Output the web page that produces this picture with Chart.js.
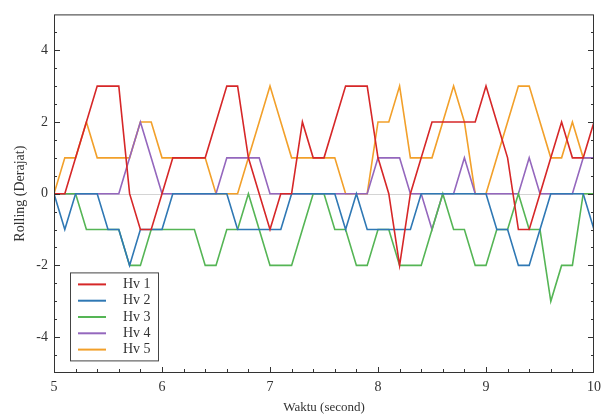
<!DOCTYPE html>
<html>
<head>
<meta charset="utf-8">
<script src="https://cdn.jsdelivr.net/npm/chart.js@4/dist/chart.umd.min.js"></script>
<style>
  html, body { margin: 0; padding: 0; background: #fff; }
  #wrap { width: 607px; height: 417px; }
</style>
</head>
<body>
<div id="wrap"><canvas id="chart"></canvas></div>
<script>
// time axis (second)
const times = [5.0, 5.1, 5.2, 5.3, 5.4, 5.5, 5.6, 5.7, 5.8, 5.9,
               6.0, 6.1, 6.2, 6.3, 6.4, 6.5, 6.6, 6.7, 6.8, 6.9,
               7.0, 7.1, 7.2, 7.3, 7.4, 7.5, 7.6, 7.7, 7.8, 7.9,
               8.0, 8.1, 8.2, 8.3, 8.4, 8.5, 8.6, 8.7, 8.8, 8.9,
               9.0, 9.1, 9.2, 9.3, 9.4, 9.5, 9.6, 9.7, 9.8, 9.9, 10.0];

// rolling (derajat) per hull
const hv1 = [0,0,1,2,3,3,3,0,-1,-1, 0,1,1,1,1,2,3,3,1,0, -1,0,0,2,1,1,2,3,3,3, 1,0,-2,0,1,2,2,2,2,2, 3,2,1,-1,-1,0,1,2,1,1, 2];
const hv2 = [0,-1,0,0,0,-1,-1,-2,-1,-1, -1,0,0,0,0,0,0,-1,-1,-1, -1,-1,0,0,0,0,0,-1,0,-1, -1,-1,-1,-1,0,0,0,0,0,0, 0,-1,-1,-2,-2,-1,0,0,0,0, -1];
const hv3 = [0,0,0,-1,-1,-1,-1,-2,-2,-1, -1,-1,-1,-1,-2,-2,-1,-1,0,-1, -2,-2,-2,-1,0,0,-1,-1,-2,-2, -1,-1,-2,-2,-2,-1,0,-1,-1,-2, -2,-1,-1,0,-1,-1,-3,-2,-2,0, 0];
const hv4 = [0,0,0,0,0,0,0,1,2,1, 0,0,0,0,0,0,1,1,1,1, 0,0,0,0,0,0,0,0,0,0, 1,1,1,0,0,-1,0,0,1,0, 0,0,0,0,1,0,0,0,0,1, 1];
const hv5 = [0,1,1,2,1,1,1,1,2,2, 1,1,1,1,1,0,0,0,1,2, 3,2,1,1,1,1,1,0,0,0, 2,2,3,1,1,1,2,3,2,0, 0,1,2,3,3,2,1,1,2,1, 1];

const seriesNames = ['Hv 1', 'Hv 2', 'Hv 3', 'Hv 4', 'Hv 5'];
const xTicks = [5, 6, 7, 8, 9, 10];
const yTicks = [-4, -2, 0, 2, 4];

const colors = ['#d62728', '#2f78b4', '#55b555', '#9467bd', '#f2a02a'];
const FONT = '"Liberation Serif", "Times New Roman", serif';
const AXIS = '#333';

const toPts = (arr) => arr.map((v, i) => ({ x: times[i], y: v }));

const frame = {
  id: 'frame',
  beforeDatasetsDraw(chart) {
    const { ctx, chartArea: a, scales: { y } } = chart;
    ctx.save();
    ctx.strokeStyle = '#d4d4d4';
    ctx.lineWidth = 1;
    const y0 = Math.round(y.getPixelForValue(0)) + 0.5;
    ctx.beginPath(); ctx.moveTo(a.left, y0); ctx.lineTo(a.right, y0); ctx.stroke();
    ctx.restore();
  },
  afterDraw(chart) {
    const { ctx, chartArea: a, scales: { x, y } } = chart;
    ctx.save();
    ctx.strokeStyle = AXIS;
    ctx.lineWidth = 1;
    ctx.strokeRect(a.left + 0.5, a.top + 0.5, a.right - a.left - 1, a.bottom - a.top - 1);

    // inward ticks, left/right
    ctx.beginPath();
    for (let i = -9; i <= 9; i++) {
      const py = Math.round(y.getPixelForValue(i / 2)) + 0.5;
      const len = i % 4 === 0 ? 6 : 3;
      ctx.moveTo(a.left, py); ctx.lineTo(a.left + len, py);
      ctx.moveTo(a.right, py); ctx.lineTo(a.right - len, py);
    }
    // bottom
    for (let i = 52; i <= 98; i += 2) {
      const px = Math.round(x.getPixelForValue(i / 10)) + 0.5;
      const len = i % 10 === 0 ? 6 : 4;
      ctx.moveTo(px, a.bottom); ctx.lineTo(px, a.bottom - len);
    }
    ctx.stroke();

    // legend box
    const lx = a.left + 16, ly = a.top + 258, lw = 88, lh = 88;
    ctx.fillStyle = '#fff';
    ctx.fillRect(lx, ly, lw, lh);
    ctx.strokeStyle = '#444';
    ctx.strokeRect(lx + 0.5, ly + 0.5, lw, lh);
    ctx.font = '14px ' + FONT;
    ctx.textBaseline = 'middle';
    chart.data.datasets.forEach((ds, i) => {
      const ry = ly + 12 + i * 16.3;
      ctx.strokeStyle = ds.borderColor;
      ctx.lineWidth = 2;
      ctx.beginPath(); ctx.moveTo(lx + 8, ry); ctx.lineTo(lx + 36, ry); ctx.stroke();
      ctx.fillStyle = '#333';
      ctx.fillText(ds.label, lx + 53, ry);
    });
    ctx.restore();
  }
};

new Chart(document.getElementById('chart'), {
  type: 'line',
  data: {
    datasets: [hv1, hv2, hv3, hv4, hv5].map((arr, i) => ({
      label: seriesNames[i],
      data: toPts(arr),
      borderColor: colors[i],
      backgroundColor: colors[i],
      borderWidth: 1.6,
      pointRadius: 0,
      tension: 0,
      fill: false
    }))
  },
  options: {
    responsive: true,
    maintainAspectRatio: false,
    animation: false,
    layout: { padding: { left: 0, right: 13, top: 11, bottom: 0 } },
    plugins: { legend: { display: false }, tooltip: { enabled: false } },
    scales: {
      x: {
        type: 'linear', min: 5, max: 10,
        afterFit: (s) => { s.height = 44; },
        afterBuildTicks: (s) => { s.ticks = xTicks.map(v => ({ value: v })); },
        grid: { display: false, drawTicks: false },
        border: { display: false },
        ticks: { padding: 6, color: '#333', font: { family: FONT, size: 14 }, maxRotation: 0 },
        title: { display: true, text: 'Waktu (second)', color: '#333', font: { family: FONT, size: 13 }, padding: { top: 0, bottom: 2 } }
      },
      y: {
        min: -5, max: 5,
        afterFit: (s) => { s.width = 54; },
        afterBuildTicks: (s) => { s.ticks = yTicks.map(v => ({ value: v })); },
        grid: { display: false, drawTicks: false },
        border: { display: false },
        ticks: { padding: 6, color: '#333', font: { family: FONT, size: 14 } },
        title: { display: true, text: 'Rolling (Derajat)', color: '#333', font: { family: FONT, size: 14 }, padding: { top: 12, bottom: 0 } }
      }
    }
  },
  plugins: [frame]
});
</script>
</body>
</html>
